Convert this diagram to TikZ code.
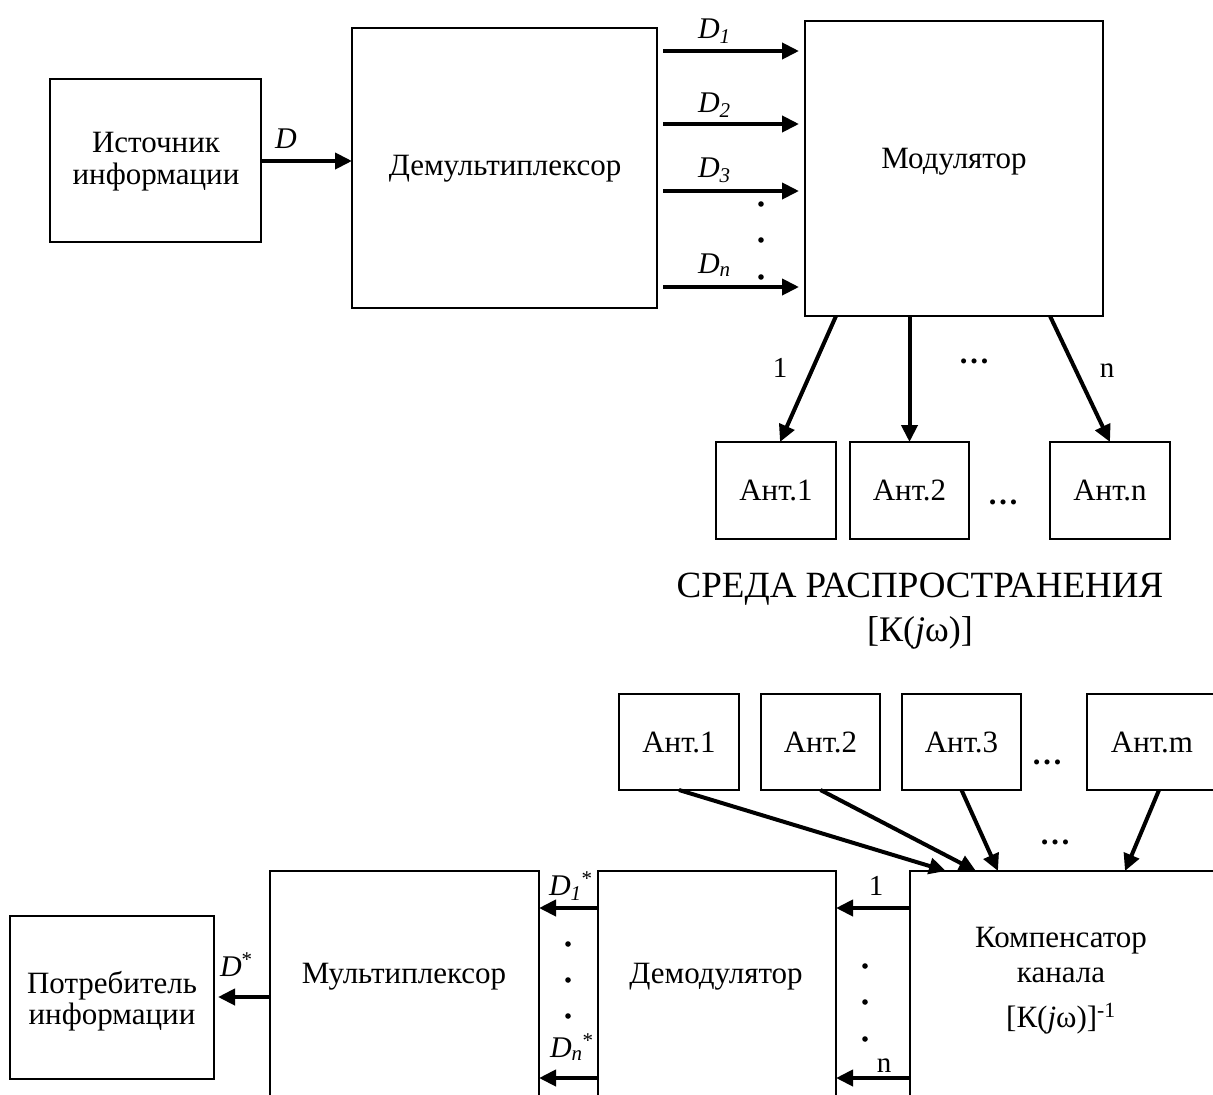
\documentclass[tikz,border=0pt]{standalone}
\usepackage{fontspec}
\setmainfont{Liberation Serif}
\usetikzlibrary{arrows.meta,calc}
\begin{document}
\begin{tikzpicture}[x=1pt,y=-1pt,
  box/.style={draw,line width=2pt,inner sep=0pt,outer sep=0pt,anchor=north west},
  txt/.style={inner sep=0pt,outer sep=0pt,font=\fontsize{31}{36}\selectfont},
  lbl/.style={inner sep=0pt,outer sep=0pt,font=\fontsize{30}{36}\selectfont\itshape},
  num/.style={inner sep=0pt,outer sep=0pt,font=\fontsize{29}{34}\selectfont},
  big/.style={inner sep=0pt,outer sep=0pt,font=\fontsize{36}{42}\selectfont},
  ell/.style={inner sep=0pt,outer sep=0pt,font=\fontsize{31}{36}\selectfont\bfseries},
  arr/.style={line width=4pt,-{Triangle[length=17pt,width=16pt]}},
  dotmark/.style={fill=black}
]
\useasboundingbox (0,0) rectangle (1213,1095);
\fill[white] (0,0) rectangle (1213,1095);
\clip (0,0) rectangle (1213,1095);

% ---- transmitter ----
\node[box,minimum width=211pt,minimum height=163pt] (src) at (50,79) {};
\node[box,minimum width=305pt,minimum height=280pt] (demux) at (352,28) {};
\node[box,minimum width=298pt,minimum height=295pt] (mod) at (805,21) {};

\node[txt,anchor=base] (srcA) at (156,152) {Источник};
\node[txt,anchor=base] (srcB) at (156,184) {информации};
\node[txt,anchor=base] (demuxT) at (505,175) {Демультиплексор};
\node[txt,anchor=base] (modT) at (954,168) {Модулятор};

% transmit antennas
\node[box,txt,minimum width=120pt,minimum height=97pt] (ta1) at (716,442) {Ант.1};
\node[box,txt,minimum width=119pt,minimum height=97pt] (ta2) at (850,442) {Ант.2};
\node[box,txt,minimum width=120pt,minimum height=97pt] (tan) at (1050,442) {Ант.n};

% propagation medium
\node[big,anchor=base,font=\fontsize{37}{42}\selectfont] (medA) at (920,597) {СРЕДА РАСПРОСТРАНЕНИЯ};
\node[big,anchor=base] (medB) at (920,641) {[К(\textit{j}ω)]};

% receive antennas
\node[box,txt,minimum width=120pt,minimum height=96pt] (ra1) at (619,694) {Ант.1};
\node[box,txt,minimum width=119pt,minimum height=96pt] (ra2) at (761,694) {Ант.2};
\node[box,txt,minimum width=119pt,minimum height=96pt] (ra3) at (902,694) {Ант.3};
\node[box,txt,minimum width=130pt,minimum height=96pt] (ram) at (1087,694) {Ант.m};

% ---- receiver ----
\node[box,minimum width=204pt,minimum height=163pt] (cons) at (10,916) {};
\node[box,minimum width=269pt,minimum height=400pt] (mux) at (270,871) {};
\node[box,minimum width=238pt,minimum height=400pt] (demod) at (598,871) {};
\node[box,minimum width=400pt,minimum height=400pt] (comp) at (910,871) {};

\node[txt,anchor=base] (consA) at (112,993) {Потребитель};
\node[txt,anchor=base] (consB) at (112,1024) {информации};
\node[txt,anchor=base] (muxT) at (404,983) {Мультиплексор};
\node[txt,anchor=base] (demodT) at (716,983) {Демодулятор};
\node[txt,anchor=base] (compA) at (1061,947) {Компенсатор};
\node[txt,anchor=base] (compB) at (1061,982) {канала};
\node[txt,anchor=base] (compC) at (1061,1027) {[К(\textit{j}ω)]\textsuperscript{-1}};

% signal levels
\coordinate (yD)  at (0,161);
\coordinate (yD1) at (0,51);
\coordinate (yD2) at (0,124);
\coordinate (yD3) at (0,191);
\coordinate (yDn) at (0,287);
\coordinate (yR1) at (0,908);
\coordinate (yRn) at (0,1078);
\coordinate (yDs) at (0,997);

% ---- connectors ----
\draw[arr] (src.east |- yD) -- (demux.west |- yD);
\foreach \lv in {yD1,yD2,yD3,yDn}
  \draw[arr,shorten <=6pt,shorten >=6pt] (demux.east |- \lv) -- (mod.west |- \lv);

\draw[arr] (mod.south -| ta1.north east) -- ([xshift=4pt]ta1.north);
\draw[arr] (mod.south -| ta2.north) -- (ta2.north);
\draw[arr] (mod.south -| tan.north west) -- (tan.north);

\draw[arr] (ra1.south) -- ([xshift=36pt]comp.north west);
\draw[arr] (ra2.south) -- ([xshift=66pt]comp.north west);
\draw[arr] (ra3.south) -- ([xshift=88pt]comp.north west);
\draw[arr] ([xshift=7pt]ram.south) -- ([xshift=215pt]comp.north west);

\draw[arr] (comp.west |- yR1) -- (demod.east |- yR1);
\draw[arr] (comp.west |- yRn) -- (demod.east |- yRn);
\draw[arr] (demod.west |- yR1) -- (mux.east |- yR1);
\draw[arr] (demod.west |- yRn) -- (mux.east |- yRn);
\draw[arr,shorten >=4pt] (mux.west |- yDs) -- (cons.east |- yDs);

% ---- labels ----
\node[lbl,anchor=base west] (lD)  at (275,148) {D};
\node[lbl,anchor=base west] (lD1) at (698,38)  {D\textsubscript{1}};
\node[lbl,anchor=base west] (lD2) at (698,112) {D\textsubscript{2}};
\node[lbl,anchor=base west] (lD3) at (698,177) {D\textsubscript{3}};
\node[lbl,anchor=base west] (lDn) at (698,273) {D\textsubscript{n}};

\node[lbl,anchor=base west] (lDs)  at (220,976)  {D\textsuperscript{\upshape *}};
\node[lbl,anchor=base west] (lD1s) at (549,895)  {D\textsubscript{1}\textsuperscript{\upshape *}};
\node[lbl,anchor=base west] (lDns) at (550,1057) {D\textsubscript{n}\textsuperscript{\upshape *}};

\node[num,anchor=base] (n1) at (780,377)  {1};
\node[num,anchor=base] (nn) at (1107,377) {n};
\node[num,anchor=base] (m1) at (876,895)  {1};
\node[num,anchor=base] (mn) at (884,1072) {n};

\node[ell,anchor=base] (e1) at (974,363)  {…};
\node[ell,anchor=base] (e2) at (1003,504) {…};
\node[ell,anchor=base] (e3) at (1047,764) {…};
\node[ell,anchor=base] (e4) at (1055,844) {…};

% vertical dot columns
\foreach \yy in {204,240,277} \fill[dotmark] (761,\yy) circle (2.8pt);
\foreach \yy in {944,980,1016} \fill[dotmark] (568,\yy) circle (2.8pt);
\foreach \yy in {966,1002,1039} \fill[dotmark] (865,\yy) circle (2.8pt);
\end{tikzpicture}
\end{document}
